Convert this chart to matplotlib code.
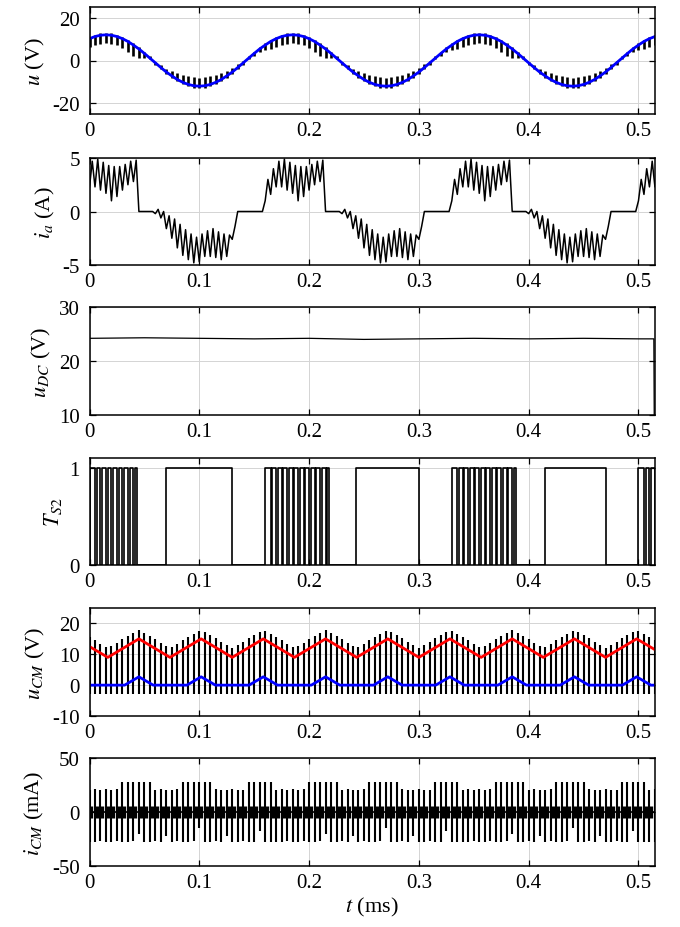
import numpy as np
import matplotlib
matplotlib.use("Agg")
import matplotlib.pyplot as plt

plt.rcParams['font.family'] = ['Liberation Serif', 'DejaVu Serif']
plt.rcParams['mathtext.fontset'] = 'stix'
plt.rcParams['axes.unicode_minus'] = False

# ---------------- data ----------------
T_END = 0.5146           # ms, right end of the time axis
CARRIER = 0.005          # ms, switching period seen in every panel
N_CARRIER = 104          # switching instants shown (0 ... 0.515 ms)

# panel 1: reference (blue) voltage over one fundamental cycle (34 switching periods)
u_ref_cycle = [10.2, 11.2, 11.8, 12.0, 11.8, 11.2, 10.2, 8.9, 7.2, 5.4, 3.3, 1.1,
               -1.1, -3.3, -5.4, -7.2, -8.9, -10.2, -11.2, -11.8, -12.0, -11.8,
               -11.2, -10.2, -8.9, -7.2, -5.4, -3.3, -1.1, 1.1, 3.3, 5.4, 7.2, 8.9]
# ripple depth of the measured (black) voltage towards zero
u_ripple_cycle = [4, 4, 4, 4, 4, 4, 4.5, 5, 5, 4, 2, 0.5,
                  0.3, 1, 1.5, 2.5, 3, 3.5, 4, 4, 4, 4,
                  4, 3.5, 3, 2.5, 2, 1.5, 1, 0.5, 1, 1.5, 2.5, 3.5]

# panel 2: phase current, mean value and ripple half-amplitude per switching period
ia_mid_cycle = [3.5, 3.6, 3.3, 3.0, 2.6, 2.8, 3.2, 3.6, 3.8, 0, 0, 0,
                0, -0.3, -1.0, -1.6, -2.3, -2.9, -3.3, -3.6, -3.4, -3.0,
                -2.9, -3.1, -3.3, -3.2, -2.0, 0, 0, 0, 0, 0, 2.0, 2.8]
ia_rip_cycle = [1.2, 1.3, 1.3, 1.3, 1.6, 1.4, 1.2, 1.1, 1.0, 0, 0, 0,
                0.2, 0.3, 0.6, 0.9, 1.1, 1.2, 1.2, 1.2, 1.3, 1.2,
                1.3, 1.2, 1.2, 1.0, 0.6, 0, 0, 0, 0, 0, 1.0, 1.2]

# panel 3: DC-link voltage
udc_t = [0, 0.05, 0.10, 0.15, 0.20, 0.25, 0.30, 0.35, 0.40, 0.45, 0.50, 0.5140, 0.5146]
udc_v = [24.2, 24.3, 24.2, 24.1, 24.2, 24.0, 24.1, 24.2, 24.1, 24.2, 24.1, 24.1, 0.0]

# panel 4: switching signal T_S2 (bursts: first/last switching index, end time)
ts2_bursts = [(0, 8, 0.0435), (32, 43, 0.2180), (66, 77, 0.3880), (100, 103, 0.5200)]
ts2_blocks = [(0.070, 0.130), (0.243, 0.300), (0.415, 0.470)]
ts2_notch = 0.0015

# panel 5: common-mode voltage
ucm_red_t = [0, 0.0167, 0.045, 0.0733, 0.1017, 0.13, 0.1583, 0.1867, 0.215, 0.2433,
             0.2717, 0.30, 0.3283, 0.3567, 0.385, 0.4133, 0.4417, 0.47, 0.4983, 0.515]
ucm_red = [12.5, 9, 15, 9, 15, 9, 15, 9, 15, 9, 15, 9, 15, 9, 15, 9, 15, 9, 15, 11.5]
ucm_blue_t = [0, 0.032, 0.045, 0.058, 0.0887, 0.1017, 0.1147, 0.1453, 0.1583, 0.1713,
              0.202, 0.215, 0.228, 0.2587, 0.2717, 0.2847, 0.3153, 0.3283, 0.3413,
              0.372, 0.385, 0.398, 0.4287, 0.4417, 0.4547, 0.4853, 0.4983, 0.5113, 0.515]
ucm_blue = [0, 0, 2.7, 0, 0, 2.7, 0, 0, 2.7, 0, 0, 2.7, 0, 0, 2.7, 0, 0, 2.7, 0,
            0, 2.7, 0, 0, 2.7, 0, 0, 2.7, 0, 0]
ucm_bar_top_cycle = [15.5, 14.5, 13.4, 12.4, 12.7, 13.8, 14.8, 15.9, 16.9, 18.0, 16.9, 15.9,
                     14.8, 13.8, 12.7, 12.4, 13.4, 14.5, 15.5, 16.6, 17.6, 17.3, 16.2, 15.2,
                     14.1, 13.1, 12.0, 13.1, 14.1, 15.2, 16.2, 17.3, 17.6, 16.6]
ucm_bar_low = -3.0

# panel 6: common-mode current spikes
icm_hi_cycle = [20, 21, 20, 21, 20, 21, 28, 28, 28, 28, 28, 28,
                20, 21, 20, 20, 21, 28, 28, 28, 28, 28, 28, 21,
                20, 20, 21, 20, 20, 28, 28, 28, 28, 28]
icm_lo_cycle = [-28, -28, -27, -28, -28, -27, -28, -28, -27, -20, -28, -28,
                -27, -28, -22, -28, -27, -28, -28, -27, -15, -28, -28, -27,
                -28, -22, -28, -28, -27, -28, -28, -18, -28, -28]
icm_ring = 6.0

# ---------------- helpers ----------------
t_sw = np.arange(N_CARRIER) * CARRIER


def cyc(values):
    return np.resize(np.asarray(values, dtype=float), N_CARRIER)


BLUE = '#0000ff'
RED = '#ff0000'
FS_TICK = 15
FS_LAB = 16

fig = plt.figure(figsize=(6.8, 9.28), dpi=100)
W_PX, H_PX = 680.0, 928.0
left, right = 89.5, 654.5
tops = [8, 159, 308, 459, 609, 759]
bots = [115, 266, 416, 566, 717, 867]
axes = [fig.add_axes([left / W_PX, 1 - b / H_PX, (right - left) / W_PX, (b - t) / H_PX])
        for t, b in zip(tops, bots)]

xt = [0, 0.1, 0.2, 0.3, 0.4, 0.5]
xtl = ['0', '0.1', '0.2', '0.3', '0.4', '0.5']


def style(ax, ylim, yticks, ylabel):
    ax.set_xlim(0, T_END)
    ax.set_ylim(*ylim)
    ax.set_xticks(xt)
    ax.set_xticklabels(xtl)
    ax.set_yticks(yticks)
    ax.set_yticklabels([str(v) for v in yticks])
    ax.tick_params(direction='in', top=True, right=True, length=4, width=0.9,
                   labelsize=FS_TICK)
    ax.tick_params(axis='x', pad=5)
    ax.tick_params(axis='y', pad=7)
    ax.grid(True, color='#d4d4d4', lw=0.7)
    ax.set_axisbelow(True)
    for sp in ax.spines.values():
        sp.set_linewidth(1.1)
    ax.set_ylabel(ylabel, fontsize=FS_LAB, labelpad=4)


# ---- panel 1
ax = axes[0]
u_k = cyc(u_ref_cycle)
d_k = cyc(u_ripple_cycle)
s_k = np.sign(u_k)
ax.plot(t_sw, u_k, color='k', lw=1.0)
ax.vlines(t_sw, u_k + 0.9 * s_k, u_k - s_k * d_k, color='k', lw=1.9)
ax.plot(t_sw, u_k, color=BLUE, lw=2.0)
style(ax, (-25, 25), [-20, 0, 20], r'$u$ (V)')

# ---- panel 2
ax = axes[1]
mid = cyc(ia_mid_cycle)
rip = cyc(ia_rip_cycle)
ia_t = np.column_stack([t_sw, t_sw + CARRIER / 2]).ravel()
ia_v = np.column_stack([mid - rip, mid + rip]).ravel()
ax.plot(ia_t, ia_v, color='k', lw=1.1)
style(ax, (-5, 5), [-5, 0, 5], r'$i_a$ (A)')

# ---- panel 3
ax = axes[2]
ax.plot(udc_t, udc_v, color='k', lw=0.9)
style(ax, (10, 30), [10, 20, 30], r'$u_{DC}$ (V)')

# ---- panel 4
ax = axes[3]
edges = []
for k0, k1, end in ts2_bursts:
    edges.append((t_sw[k0], 1))
    for k in range(k0 + 1, k1 + 1):
        edges.append((t_sw[k], 0))
        edges.append((t_sw[k] + ts2_notch, 1))
    edges.append((end, 0))
for a, b in ts2_blocks:
    edges.append((a, 1))
    edges.append((b, 0))
edges.sort(key=lambda e: e[0])
sx = [0.0] + [e[0] for e in edges]
sy = [0] + [e[1] for e in edges]
ax.step(sx, sy, where='post', color='k', lw=1.2)
style(ax, (0, 1.1), [0, 1], r'$T_{S2}$')

# ---- panel 5
ax = axes[4]
ax.vlines(t_sw, ucm_bar_low, cyc(ucm_bar_top_cycle), color='k', lw=1.5)
ax.plot(ucm_red_t, ucm_red, color=RED, lw=2.0)
ax.plot(ucm_blue_t, ucm_blue, color=BLUE, lw=2.0)
style(ax, (-10, 25), [-10, 0, 10, 20], r'$u_{CM}$ (V)')

# ---- panel 6
ax = axes[5]
ax.plot([0, T_END], [0, 0], color='k', lw=1.2)
ax.vlines(t_sw, cyc(icm_lo_cycle), cyc(icm_hi_cycle), color='k', lw=1.5)
ax.vlines(t_sw + 0.0018, -icm_ring, icm_ring, color='k', lw=2.4)
style(ax, (-50, 50), [-50, 0, 50], r'$i_{CM}$ (mA)')
ax.set_xlabel(r'$t$ (ms)', fontsize=FS_LAB, labelpad=2)

fig.savefig('out.png', dpi=100)
